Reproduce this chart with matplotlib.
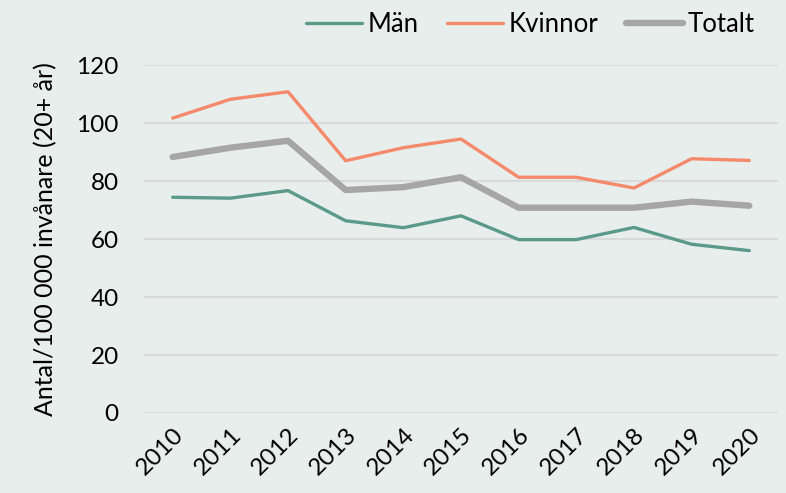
import matplotlib.pyplot as plt

# Data
years = ["2010", "2011", "2012", "2013", "2014", "2015",
         "2016", "2017", "2018", "2019", "2020"]
man = [74.4, 74.1, 76.7, 66.3, 63.9, 68.0, 59.8, 59.8, 64.0, 58.2, 56.0]
kvinnor = [101.7, 108.2, 110.8, 87.0, 91.5, 94.5, 81.3, 81.3, 77.6, 87.7, 87.1]
totalt = [88.3, 91.5, 93.9, 76.9, 77.9, 81.3, 70.8, 70.8, 70.8, 72.9, 71.5]
yticks = [0, 20, 40, 60, 80, 100, 120]

bg = "#e8eeec"
plt.rcParams["font.family"] = ["Lato", "DejaVu Sans"]

fig = plt.figure(figsize=(7.86, 4.93), dpi=100, facecolor=bg)
ax = fig.add_axes([0.183, 0.1623, 0.807, 0.7057], facecolor=bg)

x = range(len(years))
ax.plot(x, man, color="#5b9a8b", lw=2.4, solid_capstyle="round", label="Män")
ax.plot(x, kvinnor, color="#f4896b", lw=2.4, solid_capstyle="round", label="Kvinnor")
ax.plot(x, totalt, color="#a6a6a6", lw=4.6, solid_capstyle="round", label="Totalt")

ax.set_xlim(-0.5, len(years) - 0.5)
ax.set_ylim(0, 120)
ax.set_yticks(yticks)
ax.set_xticks(list(x))
ax.set_xticklabels(years, rotation=45, ha="right", rotation_mode="anchor")
ax.tick_params(axis="both", length=0, labelsize=17.5, colors="black")
ax.tick_params(axis="y", pad=18)
ax.tick_params(axis="x", pad=8)
ax.grid(axis="y", color="#d9d9d9", lw=1.5)
ax.set_axisbelow(True)
for s in ax.spines.values():
    s.set_visible(False)

ax.set_ylabel("Antal/100 000 invånare (20+ år)", fontsize=18, labelpad=14)

leg = fig.legend(loc="upper right", bbox_to_anchor=(0.99, 1.022), ncol=3, frameon=False,
                 fontsize=18.5, handlelength=2.2, handletextpad=0.2, columnspacing=1.1)

plt.savefig("out.png", dpi=100, facecolor=bg)
